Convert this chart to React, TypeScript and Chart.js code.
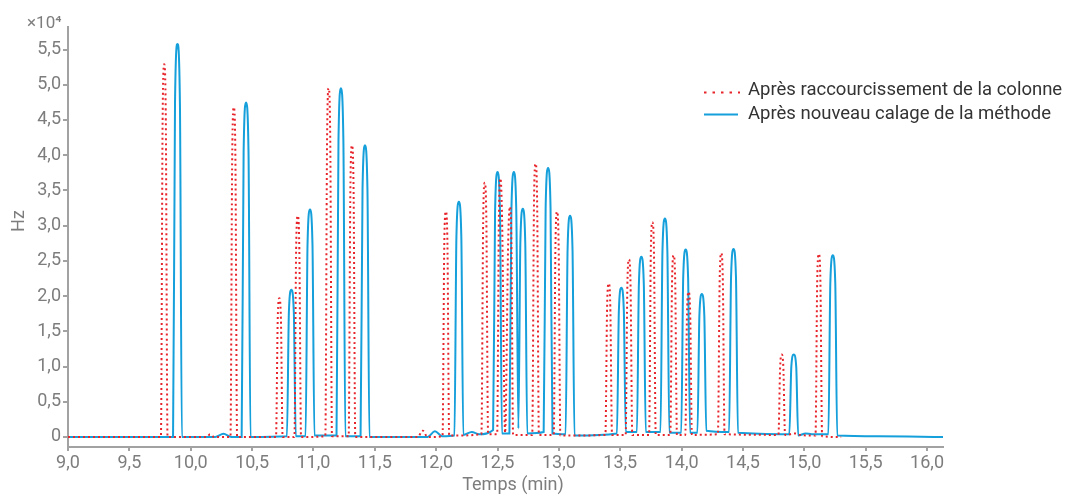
import React, { useEffect, useRef } from 'react';
import { Chart, registerables } from 'chart.js';

Chart.register(...registerables);

const seriesLabels = [
  'Après raccourcissement de la colonne',
  'Après nouveau calage de la méthode',
];

// Red dotted series: retention time (min) and signal (Hz)
const redTimes = [
  9.0,
  9.757, 9.771, 9.784, 9.797, 9.811,
  10.13, 10.158, 10.19,
  10.324, 10.338, 10.351, 10.364, 10.378,
  10.695, 10.709, 10.722, 10.735, 10.749,
  10.845, 10.859, 10.872, 10.885, 10.899,
  11.097, 11.111, 11.124, 11.137, 11.151,
  11.287, 11.301, 11.314, 11.327, 11.341,
  11.85, 11.89, 11.93,
  12.052, 12.066, 12.079, 12.092, 12.106,
  12.369, 12.383, 12.396, 12.409, 12.423,
  12.497, 12.511, 12.524, 12.537, 12.562,
  12.587, 12.6, 12.613, 12.627,
  12.783, 12.797, 12.81, 12.823, 12.837,
  12.958, 12.972, 12.985, 12.998, 13.012,
  13.379, 13.393, 13.406, 13.419, 13.433,
  13.544, 13.558, 13.571, 13.584, 13.598,
  13.735, 13.749, 13.762, 13.775, 13.789,
  13.908, 13.922, 13.935, 13.948, 13.962,
  14.03, 14.044, 14.057, 14.07, 14.084,
  14.296, 14.31, 14.323, 14.336, 14.35,
  14.789, 14.803, 14.816, 14.829, 14.843,
  14.93, 14.96,
  15.091, 15.105, 15.118, 15.131, 15.145,
  15.3,
];
const redHz = [
  0,
  0, 44970, 52900, 44970, 0,
  0, 400, 0,
  0, 39780, 46800, 39780, 0,
  0, 16750, 19700, 16750, 0,
  0, 26690, 31400, 26690, 0,
  100, 42080, 49500, 42080, 100,
  100, 35190, 41400, 35190, 0,
  0, 900, 0,
  100, 27200, 32000, 27200, 200,
  400, 30690, 36100, 30690, 400,
  400, 31200, 36700, 31200, 600,
  27800, 32700, 27800, 300,
  300, 32980, 38800, 32980, 300,
  300, 27200, 32000, 27200, 200,
  300, 18530, 21800, 18530, 300,
  300, 21420, 25200, 21420, 300,
  300, 25930, 30500, 25930, 300,
  300, 21930, 25800, 21930, 300,
  300, 17510, 20600, 17510, 300,
  400, 22190, 26100, 22190, 400,
  300, 9950, 11700, 9950, 300,
  500, 300,
  200, 22100, 26000, 22100, 100,
  0,
];

// Blue solid series: retention time (min) and signal (Hz)
const blueTimes = [
  9.0,
  9.856, 9.872, 9.892, 9.912, 9.928,
  10.2, 10.267, 10.33,
  10.415, 10.431, 10.451, 10.471, 10.487,
  10.784, 10.8, 10.82, 10.84, 10.856,
  10.936, 10.952, 10.972, 10.992, 11.008,
  11.188, 11.204, 11.224, 11.244, 11.26,
  11.384, 11.4, 11.42, 11.44, 11.456,
  11.93, 11.99, 12.05,
  12.149, 12.165, 12.185, 12.205, 12.221,
  12.29, 12.35,
  12.464, 12.48, 12.5, 12.52, 12.536,
  12.597, 12.613, 12.633, 12.653, 12.67,
  12.686, 12.706, 12.726, 12.742,
  12.876, 12.892, 12.912, 12.932, 12.948,
  13.055, 13.071, 13.091, 13.111, 13.127,
  13.473, 13.489, 13.509, 13.529, 13.545,
  13.636, 13.652, 13.672, 13.692, 13.708,
  13.828, 13.844, 13.864, 13.884, 13.9,
  13.997, 14.013, 14.033, 14.053, 14.069,
  14.129, 14.145, 14.165, 14.185, 14.201,
  14.387, 14.403, 14.423, 14.443, 14.459,
  14.878, 14.894, 14.914, 14.934, 14.95,
  15.01, 15.06,
  15.196, 15.212, 15.232, 15.252, 15.268,
  15.6, 16.13,
];
const blueHz = [
  0,
  0, 47430, 55800, 47430, 0,
  0, 450, 0,
  0, 40380, 47500, 40380, 0,
  100, 17770, 20900, 17770, 100,
  100, 27460, 32300, 27460, 200,
  200, 42080, 49500, 42080, 100,
  100, 35190, 41400, 35190, 0,
  0, 800, 100,
  200, 28390, 33400, 28390, 300,
  700, 400,
  1000, 31960, 37600, 31960, 500,
  500, 31960, 37600, 31960, 1200,
  27540, 32400, 27540, 500,
  700, 32470, 38200, 32470, 500,
  400, 26690, 31400, 26690, 200,
  500, 18020, 21200, 18020, 700,
  700, 21760, 25600, 21760, 700,
  700, 26350, 31000, 26350, 600,
  600, 22610, 26600, 22610, 600,
  600, 17260, 20300, 17260, 900,
  700, 22700, 26700, 22700, 600,
  400, 9950, 11700, 9950, 200,
  500, 400,
  400, 21930, 25800, 21930, 200,
  100, 0,
];

const xTicks = [9.0, 9.5, 10.0, 10.5, 11.0, 11.5, 12.0, 12.5, 13.0, 13.5, 14.0, 14.5, 15.0, 15.5, 16.0];
const yTicks = [0, 5000, 10000, 15000, 20000, 25000, 30000, 35000, 40000, 45000, 50000, 55000];

const RED = '#e8242b';
const BLUE = '#159fdb';
const AXIS = '#a2a2a2';
const TICK_TEXT = '#7d7d7d';
const FONT = 'Roboto';

const overlay = {
  id: 'overlay',
  afterDraw(chart: any) {
    const ctx = chart.ctx as CanvasRenderingContext2D;
    ctx.save();
    // exponent label
    ctx.fillStyle = TICK_TEXT;
    ctx.font = `17px ${FONT}`;
    ctx.textAlign = 'left';
    ctx.textBaseline = 'alphabetic';
    ctx.fillText('×10⁴', 27, 28);

    // axis titles
    ctx.font = `18px ${FONT}`;
    ctx.textAlign = 'center';
    ctx.textBaseline = 'middle';
    ctx.fillText('Temps (min)', 513, 485);
    ctx.save();
    ctx.translate(19, 221);
    ctx.rotate(-Math.PI / 2);
    ctx.fillText('Hz', 0, 0);
    ctx.restore();

    // legend
    ctx.lineWidth = 2;
    ctx.strokeStyle = RED;
    ctx.setLineDash([2.5, 6]);
    ctx.beginPath();
    ctx.moveTo(704, 92.5);
    ctx.lineTo(740, 92.5);
    ctx.stroke();
    ctx.setLineDash([]);
    ctx.strokeStyle = BLUE;
    ctx.beginPath();
    ctx.moveTo(704, 114.5);
    ctx.lineTo(738, 114.5);
    ctx.stroke();
    ctx.fillStyle = '#333333';
    ctx.font = `18.5px ${FONT}`;
    ctx.textAlign = 'left';
    ctx.textBaseline = 'middle';
    ctx.fillText(seriesLabels[0], 748, 90);
    ctx.fillText(seriesLabels[1], 748, 114);
    ctx.restore();
  },
};

export default function App() {
  const ref = useRef<HTMLCanvasElement>(null);
  useEffect(() => {
    document.body.style.margin = '0';
    const zip = (xs: number[], ys: number[]) => xs.map((x, i) => ({ x, y: ys[i] }));
    const chart = new Chart(ref.current as HTMLCanvasElement, {
      type: 'line',
      data: {
        datasets: [
          {
            label: seriesLabels[0],
            data: zip(redTimes, redHz),
            borderColor: RED,
            backgroundColor: RED,
            borderWidth: 2,
            borderDash: [2, 3],
            pointRadius: 0,
            cubicInterpolationMode: 'monotone',
            fill: false,
          },
          {
            label: seriesLabels[1],
            data: zip(blueTimes, blueHz),
            borderColor: BLUE,
            backgroundColor: BLUE,
            borderWidth: 2,
            pointRadius: 0,
            cubicInterpolationMode: 'monotone',
            fill: false,
          },
        ],
      },
      options: {
        animation: false,
        responsive: true,
        maintainAspectRatio: false,
        layout: { padding: { left: 0, top: 27, right: 123, bottom: 0 } },
        plugins: {
          legend: { display: false },
          tooltip: { enabled: false },
        },
        scales: {
          x: {
            type: 'linear',
            min: 9,
            max: 16.13,
            afterBuildTicks: (s: any) => {
              s.ticks = xTicks.map((v) => ({ value: v }));
            },
            afterFit: (s: any) => {
              s.height = 48;
            },
            ticks: {
              callback: (v: any) => Number(v).toFixed(1).replace('.', ','),
              color: TICK_TEXT,
              font: { family: FONT, size: 18 },
              padding: 2,
              maxRotation: 0,
              autoSkip: false,
            },
            grid: { drawOnChartArea: false, drawTicks: true, tickLength: 4, color: AXIS, lineWidth: 2 },
            border: { display: true, color: AXIS, width: 2 },
          },
          y: {
            type: 'linear',
            min: -1420,
            max: 58200,
            afterBuildTicks: (s: any) => {
              s.ticks = yTicks.map((v) => ({ value: v }));
            },
            afterFit: (s: any) => {
              s.width = 68;
            },
            ticks: {
              callback: (v: any) => (Number(v) === 0 ? '0' : (Number(v) / 10000).toFixed(1).replace('.', ',')),
              color: TICK_TEXT,
              font: { family: FONT, size: 18 },
              padding: 2,
              autoSkip: false,
            },
            grid: { drawOnChartArea: false, drawTicks: true, tickLength: 5, color: AXIS, lineWidth: 2 },
            border: { display: true, color: AXIS, width: 2 },
          },
        },
      },
      plugins: [overlay],
    } as any);
    return () => chart.destroy();
  }, []);
  return (
    <div style={{ width: 1066, height: 495, position: 'relative' }}>
      <canvas ref={ref} />
    </div>
  );
}
